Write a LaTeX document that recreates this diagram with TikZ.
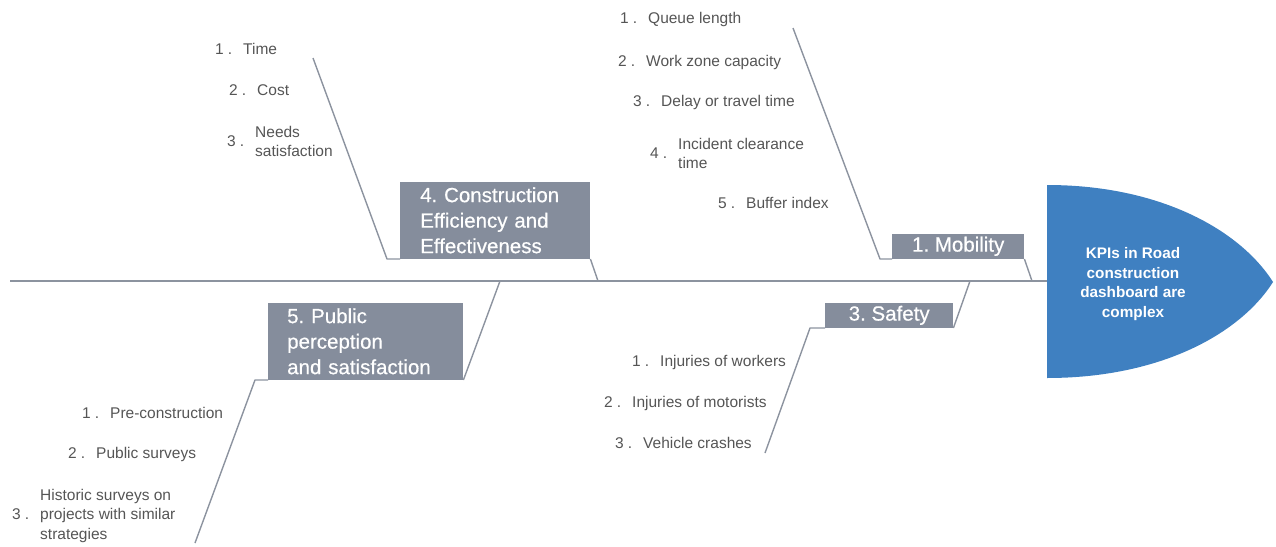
\documentclass[tikz,border=0pt]{standalone}
\usepackage{fontspec}
\setmainfont{Liberation Sans}
\newfontfamily\boxfont[FakeBold=0.5]{Liberation Sans}
\definecolor{linec}{HTML}{8C939F}
\definecolor{boxc}{HTML}{858D9C}
\definecolor{headc}{HTML}{3F80C1}
\definecolor{txtc}{HTML}{555555}
\newcommand{\itm}[2]{\strut\makebox[28pt][l]{#1\hspace{4pt}.}#2}
\newcommand{\ml}[1]{\begin{tabular}{@{}l@{}}#1\end{tabular}}
\begin{document}
\begin{tikzpicture}[x=1pt,y=-1pt,
  bone/.style={draw=linec, line width=1.4pt, line join=round},
  catbox/.style={fill=boxc, text=white, inner ysep=0pt, inner xsep=0pt, font=\boxfont\frenchspacing\fontsize{20.5}{25.5}\selectfont},
  item/.style={anchor=west, inner sep=0pt, text=txtc, font=\fontsize{15.5}{19.5}\selectfont},
  headtext/.style={text=white, align=center, inner sep=0pt, font=\bfseries\fontsize{15.3}{19.5}\selectfont}]
\useasboundingbox (0,0) rectangle (1276,546);
% head
\coordinate (htop) at (1047,185);
\coordinate (htip) at (1273,282);
\coordinate (hbot) at (1047,378);
\fill[headc] (htop) .. controls (1160,185) and (1240,230) .. (htip) .. controls (1240,334) and (1160,378) .. (hbot) -- cycle;
\node[headtext] (head) at (1133,284) {KPIs in Road\\construction\\dashboard are\\complex};
% spine
\coordinate (tail) at (10,281);
\coordinate (headl) at (1047,281);
\draw[bone] (tail) -- (headl);
% category boxes
\node[catbox, minimum width=132, minimum height=25, anchor=south west] (mob) at (892,259) {1. Mobility};
\node[catbox, minimum width=128, minimum height=25, anchor=south west] (saf) at (825,328) {3. Safety};
\node[catbox, align=left, text width=150, inner xsep=20, minimum height=77, anchor=south west] (eff) at (400,259) {4. Construction\\Efficiency and\\Effectiveness};
\node[catbox, align=left, text width=157, inner xsep=19, minimum height=77, anchor=south west] (pub) at (268,380) {5. Public\\perception\\and satisfaction};
% bones
\coordinate (m1) at (793,28);
\coordinate (m2) at (880,259);
\coordinate (mj) at (1032,281);
\draw[bone] (m1) -- (m2) -- (mob.south west);
\draw[bone] (mob.south east) -- (mj);
\coordinate (e1) at (313,58);
\coordinate (e2) at (387,259);
\coordinate (ej) at (598,281);
\draw[bone] (e1) -- (e2) -- (eff.south west);
\draw[bone] (eff.south east) -- (ej);
\coordinate (s1) at (765,453);
\coordinate (s2) at (810,328);
\coordinate (sj) at (970,281);
\draw[bone] (s1) -- (s2) -- (saf.south west);
\draw[bone] (saf.south east) -- (sj);
\coordinate (p1) at (195,543);
\coordinate (p2) at (255,380);
\coordinate (pj) at (500,281);
\draw[bone] (p1) -- (p2) -- (pub.south west);
\draw[bone] (pub.south east) -- (pj);
% items: efficiency
\node[item] (e-a) at (215,51) {\itm{1}{Time}};
\node[item] (e-b) at (229,92) {\itm{2}{Cost}};
\node[item] (e-c) at (227,143) {\itm{3}{\ml{Needs\\satisfaction}}};
% items: mobility
\node[item] (m-a) at (620,20) {\itm{1}{Queue length}};
\node[item] (m-b) at (618,63) {\itm{2}{Work zone capacity}};
\node[item] (m-c) at (633,103) {\itm{3}{Delay or travel time}};
\node[item] (m-d) at (650,155) {\itm{4}{\ml{Incident clearance\\time}}};
\node[item] (m-e) at (718,205) {\itm{5}{Buffer index}};
% items: safety
\node[item] (s-a) at (632,363) {\itm{1}{Injuries of workers}};
\node[item] (s-b) at (604,404) {\itm{2}{Injuries of motorists}};
\node[item] (s-c) at (615,445) {\itm{3}{Vehicle crashes}};
% items: public
\node[item] (p-a) at (82,415) {\itm{1}{Pre-construction}};
\node[item] (p-b) at (68,455) {\itm{2}{Public surveys}};
\node[item] (p-c) at (12,516) {\itm{3}{\ml{Historic surveys on\\projects with similar\\strategies}}};
\end{tikzpicture}
\end{document}
